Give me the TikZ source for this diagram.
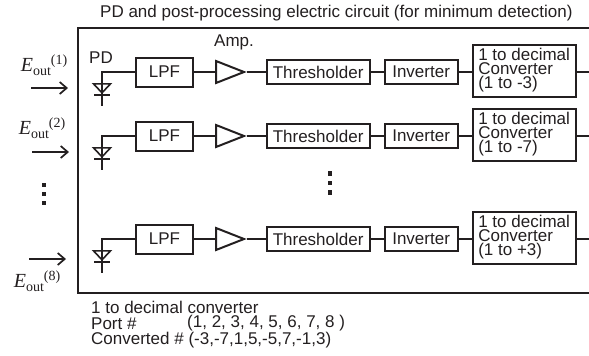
\documentclass[tikz,border=0pt]{standalone}
\usepackage{fontspec}
\setmainfont{Liberation Sans}
\newfontfamily\eoutfont{Liberation Serif}
\usetikzlibrary{positioning, shapes.geometric, arrows.meta}
\definecolor{diagline}{HTML}{231f20}
\newcommand{\eoutlabel}[1]{{\eoutfont\fontsize{20}{20}\selectfont\itshape E}{\eoutfont\fontsize{14}{14}\selectfont\raisebox{-4pt}{out}\raisebox{7pt}{(#1)}}}

\begin{document}
\begin{tikzpicture}[x=1pt,y=-1pt,font=\fontsize{17}{14}\selectfont,text=diagline,
  blk/.style={draw=diagline, line width=2pt, inner sep=0pt, minimum height=24pt},
  cvt/.style={blk, minimum width=103pt, minimum height=52pt, align=left},
  wire/.style={draw=diagline, line width=2.2pt},
  inarrow/.style={-{Straight Barb[length=7pt,width=12pt]},diagline,line width=1.7pt},
  dot/.style={fill=diagline, inner sep=0pt, minimum size=4.5pt},
  txt/.style={inner sep=0pt, anchor=west}]
\useasboundingbox (0,0) rectangle (589,356);

\node[txt](title) at (100,13.5) {PD and post-processing electric circuit (for minimum detection)};
\coordinate (ftop) at (589,28);
\coordinate (fbot) at (589,293);
\draw[draw=diagline, line width=2pt] (ftop) -- (78,28) -- (78,293) -- (fbot);
\node[txt](pdlabel) at (89,58) {PD};
\node[txt](amplabel) at (214,42) {Amp.};

\foreach \r/\yy/\ratio in {a/72/1 to -3, b/136/1 to -7, c/239/1 to +3}{
  \node[blk, minimum width=57pt, minimum height=29pt](lpf\r) at (164.5,\yy) {LPF};
  \node[isosceles triangle, isosceles triangle stretches, draw=diagline, line width=2pt, inner sep=0pt,
        minimum width=22pt, minimum height=28pt, right=21pt of lpf\r](amp\r) {};
  \node[blk, minimum width=103pt, right=19pt of amp\r](thr\r) {Thresholder};
  \node[blk, minimum width=73pt, right=13pt of thr\r](inv\r) {Inverter};
  \node[cvt, right=13pt of inv\r, yshift=1.5pt](con\r) {1 to decimal\\Converter\\(\ratio)};
  \coordinate (out\r) at (589,\yy);
  \coordinate (pdend\r) at (102,\yy+34);
  \node[isosceles triangle, isosceles triangle stretches, shape border rotate=-90, draw=diagline, line width=1.6pt, inner sep=0pt,
        minimum width=17pt, minimum height=9pt](pd\r) at (102,\yy+15.5) {};
  \draw[wire] (lpf\r.west) -| (pdend\r);
  \draw[wire] ([xshift=-8pt]pd\r.apex) -- ([xshift=8pt]pd\r.apex);
  \draw[wire] (lpf\r) -- (amp\r);
  \draw[wire] (amp\r.apex) -- (thr\r);
  \draw[wire] (thr\r) -- (inv\r);
  \draw[wire] (inv\r.east) -- (con\r.west |- inv\r.east);
  \draw[wire] (con\r.east |- out\r) -- (out\r);
}

% input side
\node[inner sep=0pt](ea) at (44,65) {\eoutlabel{1}};
\node[inner sep=0pt](eb) at (42,128) {\eoutlabel{2}};
\node[inner sep=0pt](ec) at (37,281) {\eoutlabel{8}};
\coordinate (fa) at (31,88);
\coordinate (ta) at (68,88);
\coordinate (fb) at (32,152);
\coordinate (tb) at (69,152);
\coordinate (fc) at (29,259);
\coordinate (tc) at (66,259);
\draw[inarrow] (fa) -- (ta);
\draw[inarrow] (fb) -- (tb);
\draw[inarrow] (fc) -- (tc);

\node[dot](la) at (44,185) {};
\node[dot](lb) at (44,194) {};
\node[dot](lc) at (44,203) {};
\node[dot](ma) at (330,173.5) {};
\node[dot](mb) at (330,183) {};
\node[dot](mc) at (330,192.5) {};

\node[txt](note) at (91,307) {1 to decimal converter};
\node[txt](port) at (91,323.5) {Port \#};
\node[txt](portv) at (187,323.5) {(1, 2, 3, 4, 5, 6, 7, 8 )};
\node[txt](conv) at (91,340) {Converted \# (-3,-7,1,5,-5,7,-1,3)};

\end{tikzpicture}
\end{document}
